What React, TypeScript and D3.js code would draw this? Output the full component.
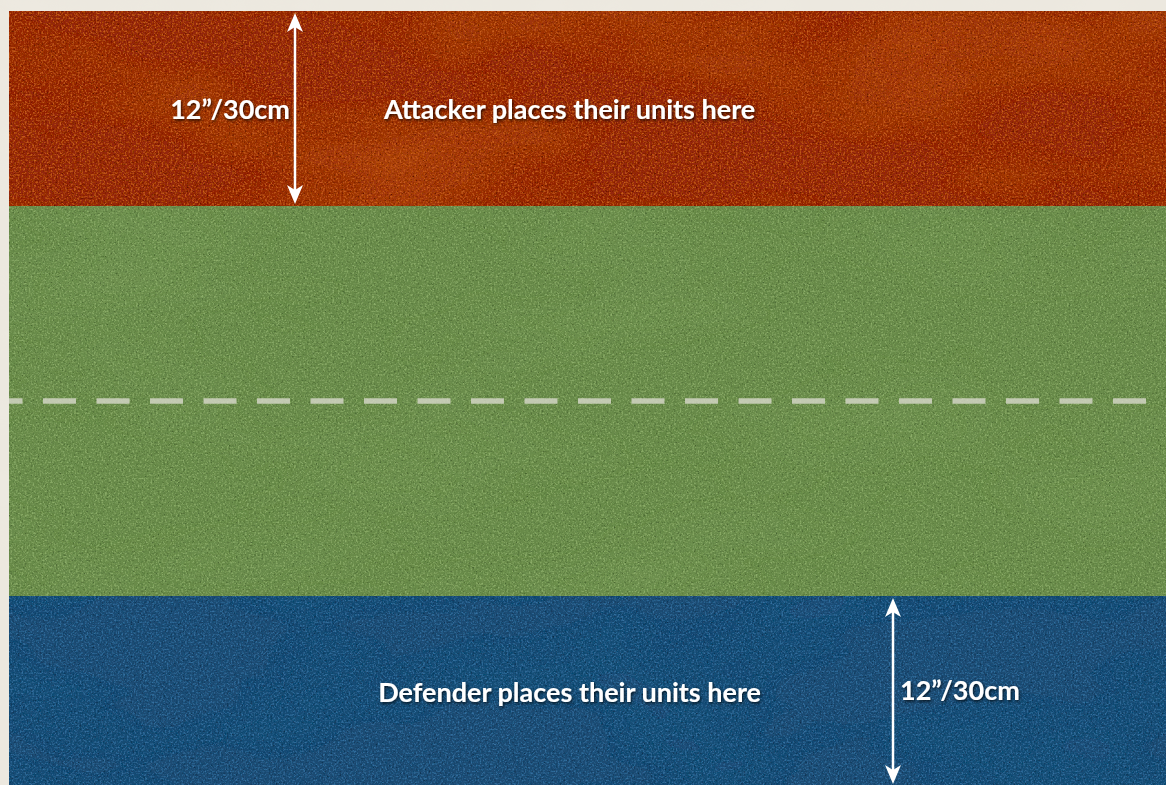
import React from 'react';
import * as d3 from 'd3';

// deployment map, units in inches (board is 72" x 48", picture cropped)
const zoneNames = ['attacker', 'middle', 'defender'];
const zoneFrom = [0, 12, 36];
const zoneTo = [12, 36, 48];
const zoneLabels = ['Attacker places their units here', '', 'Defender places their units here'];
const zoneBase = ['#94260f', '#678a4a', '#1d4b73'];
const zoneLight = ['#c95e1c', '#8cad69', '#3470a0'];
const zoneDark = ['#560e05', '#44602e', '#112e4a'];
const zoneBlotch = [0.4, 0.15, 0.12];

const rulerZones = ['attacker', 'defender'];
const rulerAt = [17.6, 54.4];
const rulerText = ['12\u201d/30cm', '12\u201d/30cm'];

const centreLine = 24;
const boardWidth = 72;
const boardDepth = 48;

const W = 1166;
const H = 785;

const App = () => {
  const x = d3.scaleLinear().domain([0, boardWidth]).range([9, 9 + boardWidth * 16.25]);
  const y = d3.scaleLinear().domain([0, boardDepth]).range([11, 11 + boardDepth * 16.25]);

  const arrow = d3.line<[number, number]>();

  return (
    <svg
      width={W}
      height={H}
      style={{ position: 'fixed', left: 0, top: 0, display: 'block' }}
      fontFamily="Lato, 'Open Sans', sans-serif"
    >
      <defs>
        <filter id="paper" x="0" y="0" width="100%" height="100%">
          <feTurbulence type="fractalNoise" baseFrequency="0.015" numOctaves="3" seed="7" result="n" />
          <feColorMatrix in="n" type="matrix"
            values="0 0 0 0 0.85  0 0 0 0 0.82  0 0 0 0 0.76  1.4 0 0 0 -0.55" result="blot" />
          <feComposite in="blot" in2="SourceGraphic" operator="in" result="b2" />
          <feMerge><feMergeNode in="SourceGraphic" /><feMergeNode in="b2" /></feMerge>
        </filter>
        {zoneNames.map((z, i) => (
          <filter key={z} id={`tex-${z}`} x="0" y="0" width="100%" height="100%">
            <feTurbulence type="fractalNoise" baseFrequency="0.55" numOctaves="2" seed={i + 3} result="fine" />
            <feTurbulence type="fractalNoise" baseFrequency="0.004 0.01" numOctaves="3" seed={i + 11} result="coarse" />
            <feFlood floodColor={zoneLight[i]} result="lc" />
            <feFlood floodColor={zoneDark[i]} result="dc" />
            <feColorMatrix in="fine" type="matrix"
              values="0 0 0 0 0  0 0 0 0 0  0 0 0 0 0  3.2 0 0 0 -1.55" result="la" />
            <feColorMatrix in="fine" type="matrix"
              values="0 0 0 0 0  0 0 0 0 0  0 0 0 0 0  0 -3 0 0 1.3" result="da" />
            <feColorMatrix in="coarse" type="matrix"
              values={`0 0 0 0 0  0 0 0 0 0  0 0 0 0 0  0 0 ${2 * zoneBlotch[i]} 0 ${-0.9 * zoneBlotch[i]}`} result="ca" />
            <feComposite in="lc" in2="ca" operator="in" result="blotch" />
            <feComposite in="lc" in2="la" operator="in" result="light" />
            <feComposite in="dc" in2="da" operator="in" result="dark" />
            <feMerge result="m">
              <feMergeNode in="SourceGraphic" />
              <feMergeNode in="blotch" />
              <feMergeNode in="light" />
              <feMergeNode in="dark" />
            </feMerge>
            <feComposite in="m" in2="SourceGraphic" operator="in" />
          </filter>
        ))}
        <filter id="shadow" x="-10%" y="-50%" width="120%" height="200%">
          <feDropShadow dx="1" dy="1.5" stdDeviation="1.6" floodColor="#000" floodOpacity="0.75" />
        </filter>
        <filter id="edge" x="-5%" y="-200%" width="110%" height="500%">
          <feGaussianBlur stdDeviation="1.2" />
        </filter>
      </defs>

      <rect width={W} height={H} fill="#ece8df" filter="url(#paper)" />

      {zoneNames.map((z, i) => (
        <rect
          key={z}
          x={x(0)}
          y={y(zoneFrom[i])}
          width={x(boardWidth) - x(0)}
          height={y(zoneTo[i]) - y(zoneFrom[i])}
          fill={zoneBase[i]}
          filter={`url(#tex-${z})`}
        />
      ))}

      {/* dark seams between zones */}
      {zoneFrom.slice(1).map((f) => (
        <line
          key={f}
          x1={x(0)}
          x2={x(boardWidth)}
          y1={y(f) + 0.5}
          y2={y(f) + 0.5}
          stroke="#1e2a12"
          strokeOpacity={0.7}
          strokeWidth={2}
          filter="url(#edge)"
        />
      ))}

      <line
        x1={x(0)}
        x2={x(boardWidth)}
        y1={y(centreLine)}
        y2={y(centreLine)}
        stroke="#d2d5c4"
        strokeOpacity={0.85}
        strokeWidth={5.5}
        strokeDasharray="33 20.5"
        strokeDashoffset={19.5}
      />

      {zoneNames.map((z, i) =>
        zoneLabels[i] ? (
          <text
            key={z}
            x={x(34.5)}
            y={y((zoneFrom[i] + zoneTo[i]) / 2) - (i === 2 ? 2 : 0)}
            textAnchor="middle"
            dominantBaseline="central"
            fill="#fff"
            fontSize={27}
            fontWeight={700}
            filter="url(#shadow)"
          >
            {zoneLabels[i]}
          </text>
        ) : null
      )}

      {rulerZones.map((z, k) => {
        const i = zoneNames.indexOf(z);
        const ax = x(rulerAt[k]);
        const y0 = y(zoneFrom[i]) + 2;
        const y1 = Math.min(y(zoneTo[i]) - 2, H - 1);
        const head = (tip: number, dir: number) =>
          `M${ax},${tip} L${ax - 8},${tip + dir * 19} L${ax},${tip + dir * 14} L${ax + 8},${tip + dir * 19} Z`;
        const ym = (y0 + y1) / 2;
        return (
          <g key={z}>
            <path d={arrow([[ax, y0 + 12], [ax, y1 - 12]]) || ''} stroke="#fff" strokeWidth={2.5} />
            <path d={head(y0, 1)} fill="#fff" />
            <path d={head(y1, -1)} fill="#fff" />
            <text
              x={k === 0 ? ax - 5 : ax + 7}
              y={k === 0 ? ym : ym - 2}
              textAnchor={k === 0 ? 'end' : 'start'}
              dominantBaseline="central"
              fill="#fff"
              fontSize={27}
              fontWeight={700}
              filter="url(#shadow)"
            >
              {rulerText[k]}
            </text>
          </g>
        );
      })}
    </svg>
  );
};

export default App;
